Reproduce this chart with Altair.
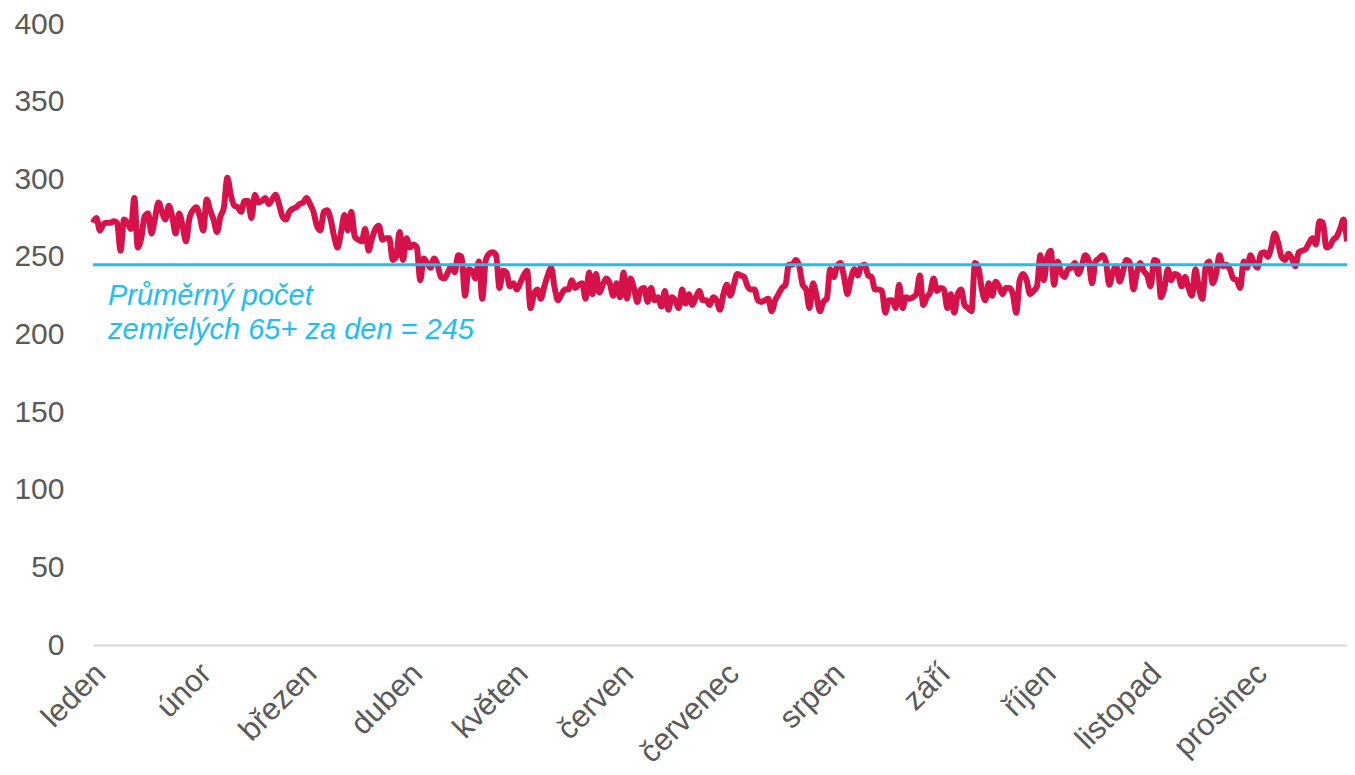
import json
import altair as alt
import pandas as pd

months = ["leden", "únor", "březen", "duben", "květen", "červen",
          "červenec", "srpen", "září", "říjen", "listopad", "prosinec"]

jan = [272, 275, 267, 271, 272, 272, 273, 272, 254, 274, 272, 268, 288, 256, 262, 276,
       278, 265, 275, 285, 279, 274, 283, 276, 265, 278, 270, 260, 275, 280, 282]
feb = [276, 267, 287, 280, 274, 266, 276, 282, 301, 290, 283, 282, 279, 286, 286, 275,
       290, 285, 286, 288, 284, 287, 290, 284, 276, 274, 279, 281]
mar = [282, 284, 285, 288, 284, 279, 270, 267, 279, 280, 274, 263, 256, 266, 277, 267,
       279, 263, 261, 260, 268, 254, 262, 268, 270, 261, 262, 262, 248, 250, 266]
apr = [248, 262, 256, 258, 256, 235, 249, 246, 243, 249, 245, 237, 236, 240, 244, 240,
       251, 250, 225, 242, 241, 236, 247, 223, 248, 252, 253, 251, 230, 241]
may = [240, 231, 233, 229, 233, 238, 241, 217, 226, 229, 223, 231, 238, 243, 230, 222,
       226, 229, 229, 235, 230, 232, 233, 223, 240, 226, 239, 227, 232, 236, 233]
jun = [225, 233, 224, 240, 223, 236, 230, 221, 229, 230, 221, 230, 222, 224, 218, 228,
       216, 224, 222, 217, 229, 220, 226, 219, 224, 228, 222, 222, 219, 224]
jul = [222, 216, 226, 232, 225, 232, 239, 238, 237, 231, 229, 229, 222, 221, 222, 223,
       215, 222, 226, 230, 232, 245, 245, 248, 244, 232, 229, 217, 233, 225, 215]
aug = [221, 223, 242, 237, 244, 246, 237, 226, 236, 242, 238, 244, 245, 238, 237, 229,
       229, 228, 214, 222, 222, 217, 232, 217, 224, 223, 224, 226, 238, 219, 224]
sep = [227, 236, 228, 230, 229, 217, 226, 214, 226, 229, 219, 217, 215, 246, 243, 229,
       222, 233, 225, 234, 231, 226, 230, 230, 226, 214, 235, 239, 235, 226]
oct_ = [228, 231, 251, 235, 250, 254, 232, 247, 240, 237, 242, 243, 246, 239, 244, 251,
        248, 233, 247, 249, 251, 247, 232, 240, 244, 234, 241, 248, 246, 229, 240]
nov = [246, 241, 238, 231, 248, 247, 224, 230, 242, 235, 239, 238, 231, 237, 230, 225,
       242, 230, 223, 244, 247, 233, 239, 251, 244, 245, 242, 236, 235, 230]
dec = [247, 243, 251, 246, 243, 252, 253, 250, 256, 265, 259, 250, 248, 252, 249, 244,
       253, 254, 255, 259, 262, 258, 273, 272, 256, 257, 261, 263, 268, 274, 260]

average_value = 245
annotation = "Průměrný počet\nzemřelých 65+ za den = 245"
y_ticks = [0, 50, 100, 150, 200, 250, 300, 350, 400]

daily = jan + feb + mar + apr + may + jun + jul + aug + sep + oct_ + nov + dec
df = pd.DataFrame({"day": list(range(len(daily))), "deaths": daily})
avg_df = pd.DataFrame({"avg": [average_value]})
txt_df = pd.DataFrame({"t": [annotation]})

FONT = "Liberation Sans"
GREY = "#595959"
RED = "#D5124A"
CYAN = "#1FBDF0"

step = 30.65
off = 2.0
tick_vals = [off + step * i for i in range(len(months))]
label_expr = f"{json.dumps(months, ensure_ascii=False)}[round((datum.value - {off}) / {step})]"

x_enc = alt.X(
    "day:Q",
    scale=alt.Scale(domain=[0, len(daily) - 1], nice=False, zero=False),
    axis=alt.Axis(
        values=tick_vals, labelExpr=label_expr, labelAngle=-45,
        labelFontSize=31, labelColor=GREY, labelFont=FONT,
        ticks=False, tickSize=0, domainColor="#D9D9D9", domainWidth=2,
        grid=False, title=None, labelPadding=13, labelOffset=-10,
        labelOverlap=False, labelFlush=False,
    ),
)
y_enc = alt.Y(
    "deaths:Q",
    scale=alt.Scale(domain=[0, 400], nice=False),
    axis=alt.Axis(
        values=y_ticks, labelFontSize=30, labelColor=GREY, labelFont=FONT,
        ticks=False, tickSize=0, domain=False, grid=False, title=None,
        labelPadding=29,
    ),
)

line = alt.Chart(df).mark_line(
    color=RED, strokeWidth=6, interpolate="monotone"
).encode(x=x_enc, y=y_enc)

rule = alt.Chart(avg_df).mark_rule(color=CYAN, strokeWidth=3).encode(
    y=alt.Y("avg:Q")
)

text = alt.Chart(txt_df).mark_text(
    align="left", baseline="alphabetic", fontStyle="italic", fontSize=29,
    font=FONT, color=CYAN, lineBreak="\n", lineHeight=34,
).encode(x=alt.value(15), y=alt.value(281), text="t:N")

chart = alt.layer(line, rule, text).properties(
    width=1254, height=621,
    autosize=alt.AutoSizeParams(type="none"),
    padding={"left": 85, "top": 16, "right": 0, "bottom": 130},
).configure_view(stroke=None)

chart.save("out.html", embed_options={"renderer": "svg", "actions": False})
